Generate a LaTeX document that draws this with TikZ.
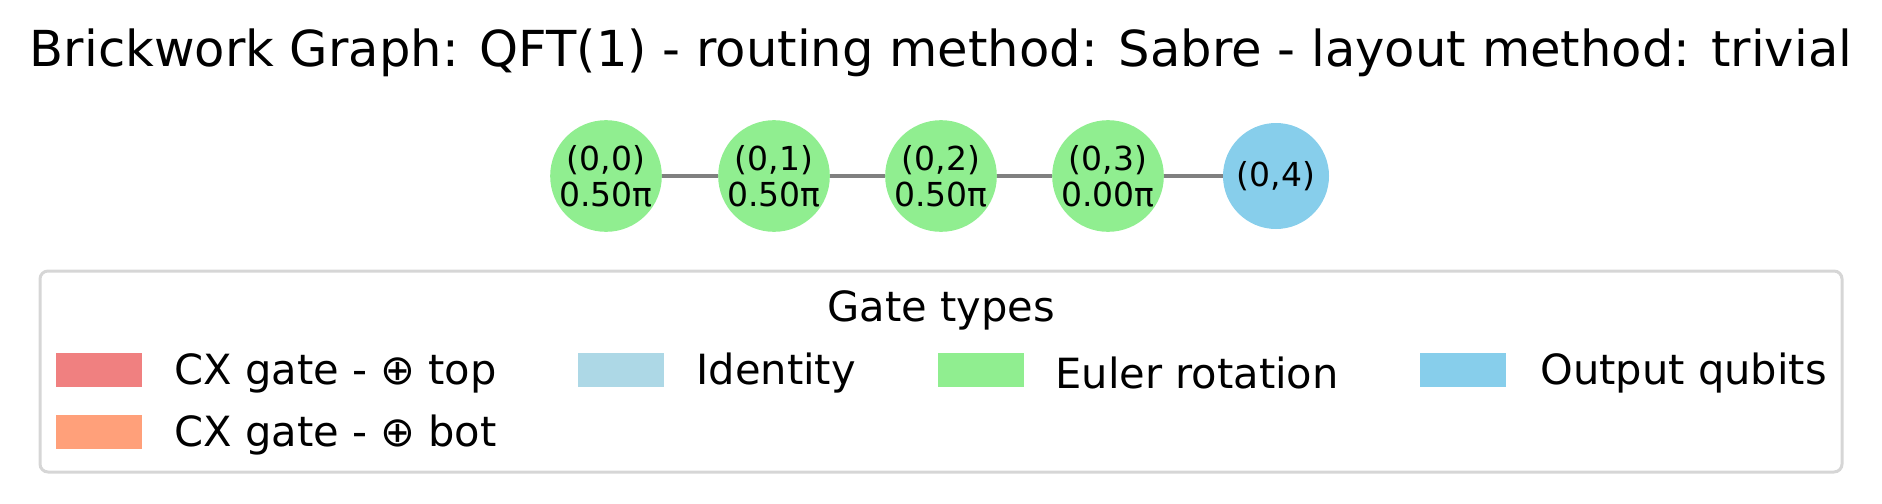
\documentclass[tikz,border=0pt]{standalone}
\usepackage{fontspec}
\setmainfont{DejaVu Sans}
\definecolor{lcoral}{HTML}{F08080}
\definecolor{lsalmon}{HTML}{FFA07A}
\definecolor{lblue}{HTML}{ADD8E6}
\definecolor{lgreen}{HTML}{90EE90}
\definecolor{sky}{HTML}{87CEEB}
\definecolor{legframe}{HTML}{D6D6D6}
\begin{document}
\begin{tikzpicture}[x=0.5pt,y=-0.5pt,
  qnode/.style={circle,minimum size=53pt,inner sep=0pt,align=center,font=\fontsize{16.5}{18}\selectfont},
  euler/.style={qnode,fill=lgreen},
  outq/.style={qnode,fill=sky},
  edge/.style={draw=gray,line width=2.2pt},
  patch/.style={minimum width=43pt,minimum height=17pt,inner sep=0pt},
  legtext/.style={anchor=west,inner sep=0pt,font=\fontsize{20.8}{24}\selectfont}
]
\useasboundingbox (0,0) rectangle (1882,503);
\node[font=\fontsize{24.8}{29}\selectfont] (title) at (941,53) {Brickwork Graph: QFT(1) - routing method: Sabre - layout method: trivial};
\node[euler] (n0) at (606,176) {(0,0)\\0.50π};
\node[euler] (n1) at (774,176) {(0,1)\\0.50π};
\node[euler] (n2) at (941,176) {(0,2)\\0.50π};
\node[euler] (n3) at (1108,176) {(0,3)\\0.00π};
\node[outq] (n4) at (1276,176) {(0,4)};
\draw[edge] (n0) -- (n1);
\draw[edge] (n1) -- (n2);
\draw[edge] (n2) -- (n3);
\draw[edge] (n3) -- (n4);
\draw[draw=legframe,line width=1.5pt,rounded corners=4pt] (40,271) rectangle (1842,472);
\node[font=\fontsize{20.8}{24}\selectfont] (lt) at (941,310) {Gate types};
\node[patch,fill=lcoral] (p1) at (98.5,370) {};
\node[legtext] (t1) at (174,373) {CX gate - ⊕ top};
\node[patch,fill=lsalmon] (p2) at (98.5,432) {};
\node[legtext] (t2) at (174,435) {CX gate - ⊕ bot};
\node[patch,fill=lblue] (p3) at (620.5,370) {};
\node[legtext] (t3) at (696,373) {Identity};
\node[patch,fill=lgreen] (p4) at (980.5,370) {};
\node[legtext] (t4) at (1055,373) {Euler rotation};
\node[patch,fill=sky] (p5) at (1463,370) {};
\node[legtext] (t5) at (1540,373) {Output qubits};
\end{tikzpicture}
\end{document}
